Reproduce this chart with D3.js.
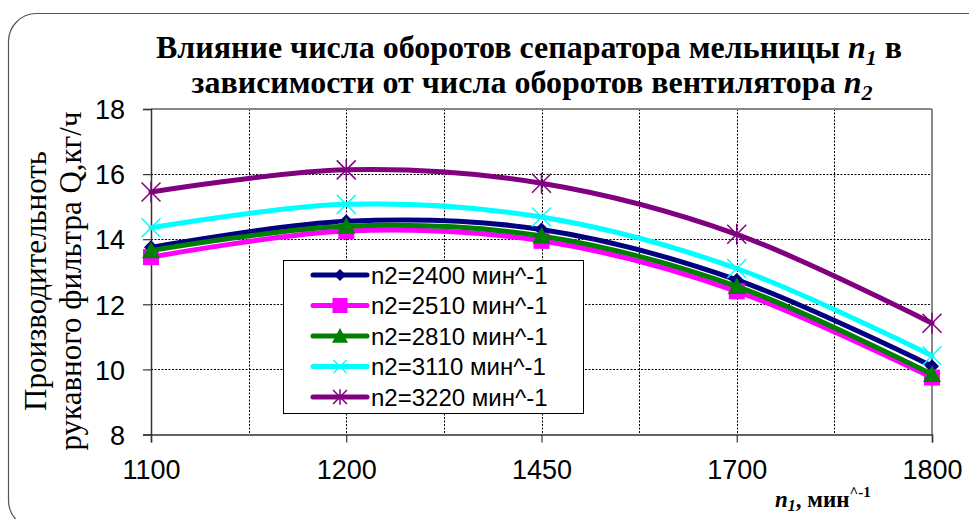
<!DOCTYPE html>
<html><head><meta charset="utf-8">
<script src="https://cdn.jsdelivr.net/npm/d3@7"></script>
<style>html,body{margin:0;padding:0;background:#fff;}svg{display:block;}</style>
</head><body>
<svg id="chart" width="969" height="519"></svg>
<script>
const categories = ['1100', '1200', '1450', '1700', '1800'];
const s2400 = [13.75, 14.55, 14.3, 12.75, 10.1];
const s2510 = [13.45, 14.25, 13.95, 12.4, 9.75];
const s2810 = [13.65, 14.4, 14.1, 12.55, 9.85];
const s3110 = [14.35, 15.07, 14.68, 13.1, 10.42];
const s3220 = [15.45, 16.13, 15.72, 14.15, 11.42];
const seriesNames = ['n2=2400 мин^-1', 'n2=2510 мин^-1', 'n2=2810 мин^-1', 'n2=3110 мин^-1', 'n2=3220 мин^-1'];
const yTicks = [8, 10, 12, 14, 16, 18];

const series = [
  {name: seriesNames[0], values: s2400, color: '#000080', marker: 'diamond'},
  {name: seriesNames[1], values: s2510, color: '#FF00FF', marker: 'square'},
  {name: seriesNames[2], values: s2810, color: '#008000', marker: 'triangle'},
  {name: seriesNames[3], values: s3110, color: '#00FFFF', marker: 'x'},
  {name: seriesNames[4], values: s3220, color: '#800080', marker: 'star'}
];

const svg = d3.select('#chart');
const SANS = '"Liberation Sans", Arial, sans-serif';
const SERIF = '"Liberation Serif", "Times New Roman", serif';

// outer rounded frame
svg.append('rect').attr('x', 8.5).attr('y', 13.5).attr('width', 990).attr('height', 515)
  .attr('rx', 28).attr('fill', '#fff').attr('stroke', '#555').attr('stroke-width', 1.2);

const plot = {left: 151, right: 932, top: 109, bottom: 434.5};
const x = d3.scalePoint().domain(categories).range([plot.left, plot.right]);
const y = d3.scaleLinear().domain([8, 18]).range([plot.bottom, plot.top]);
const step = x.step();

// gridlines horizontal
const g = svg.append('g');
g.selectAll('line.hg').data(yTicks.filter(t => t > 8 && t < 18)).join('line')
  .attr('x1', plot.left).attr('x2', plot.right)
  .attr('y1', d => Math.round(y(d)) + 0.5).attr('y2', d => Math.round(y(d)) + 0.5)
  .attr('stroke', '#000').attr('stroke-width', 1).attr('stroke-dasharray', '2,1.5');
// vertical gridlines at each half category
const halfSteps = d3.range(1, (categories.length - 1) * 2).map(i => plot.left + i * step / 2);
g.selectAll('line.vg').data(halfSteps).join('line')
  .attr('x1', d => Math.round(d) + 0.5).attr('x2', d => Math.round(d) + 0.5)
  .attr('y1', plot.top).attr('y2', plot.bottom)
  .attr('stroke', '#000').attr('stroke-width', 1).attr('stroke-dasharray', '2,1.5');
// top and right border (grey)
g.append('line').attr('x1', plot.left).attr('x2', plot.right).attr('y1', plot.top).attr('y2', plot.top)
  .attr('stroke', '#888').attr('stroke-width', 2);
g.append('line').attr('x1', plot.right).attr('x2', plot.right).attr('y1', plot.top).attr('y2', plot.bottom)
  .attr('stroke', '#888').attr('stroke-width', 2);

// axes
const yAxis = d3.axisLeft(y).tickValues(yTicks).tickSize(8).tickPadding(8);
const yG = svg.append('g').attr('transform', `translate(${plot.left},0)`).call(yAxis);
yG.select('.domain').attr('stroke', '#333').attr('stroke-width', 1.5);
yG.selectAll('.tick line').attr('stroke', '#333').attr('stroke-width', 1.2);
yG.selectAll('.tick text').style('font-family', SANS).style('font-size', '27px').attr('fill', '#000')
  .attr('dy', '0.36em').attr('x', -26);

const xAxis = d3.axisBottom(x).tickSize(8).tickPadding(14);
const xG = svg.append('g').attr('transform', `translate(0,${plot.bottom})`).call(xAxis);
xG.select('.domain').attr('stroke', '#333').attr('stroke-width', 1.5);
xG.selectAll('.tick line').attr('stroke', '#333').attr('stroke-width', 1.2);
xG.selectAll('.tick text').style('font-family', SANS).style('font-size', '27px').attr('fill', '#000')
  .attr('dy', null).attr('y', 44.5);

// markers
function drawMarker(sel, type, color, s) {
  const h = s / 2;
  if (type === 'diamond') {
    sel.append('path').attr('d', `M0,${-h}L${h},0L0,${h}L${-h},0Z`).attr('fill', color);
  } else if (type === 'square') {
    sel.append('rect').attr('x', -h).attr('y', -h).attr('width', s).attr('height', s).attr('fill', color);
  } else if (type === 'triangle') {
    sel.append('path').attr('d', `M0,${-h}L${h},${h * 0.85}L${-h},${h * 0.85}Z`).attr('fill', color);
  } else if (type === 'x') {
    sel.append('path').attr('d', `M${-h},${-h}L${h},${h}M${h},${-h}L${-h},${h}`)
      .attr('stroke', color).attr('stroke-width', 1.5).attr('fill', 'none');
  } else if (type === 'star') {
    sel.append('path').attr('d', `M${-h},${-h}L${h},${h}M${h},${-h}L${-h},${h}M0,${-h * 1.1}L0,${h * 1.1}`)
      .attr('stroke', color).attr('stroke-width', 1.5).attr('fill', 'none');
  }
}
const markerSize = {diamond: 14, square: 16, triangle: 18, x: 19, star: 19};

const line = d3.line().x((d, i) => x(categories[i])).y(d => y(d)).curve(d3.curveCardinal.tension(0));
series.forEach(s => {
  const sg = svg.append('g');
  sg.append('path').attr('d', line(s.values)).attr('fill', 'none').attr('stroke', s.color)
    .attr('stroke-width', 5).attr('stroke-linejoin', 'round').attr('stroke-linecap', 'round');
  s.values.forEach((v, i) => {
    const m = sg.append('g').attr('transform', `translate(${x(categories[i])},${y(v)})`);
    drawMarker(m, s.marker, s.color, markerSize[s.marker]);
  });
});

// legend
const leg = svg.append('g');
leg.append('rect').attr('x', 283.5).attr('y', 260.5).attr('width', 300).attr('height', 153)
  .attr('fill', '#fff').attr('stroke', '#000').attr('stroke-width', 1);
const legY = [275, 305.5, 336, 366.5, 397];
const legMarker = {diamond: 12, square: 15, triangle: 16, x: 13, star: 14};
series.forEach((s, i) => {
  const ly = legY[i];
  leg.append('line').attr('x1', 313).attr('x2', 367).attr('y1', ly).attr('y2', ly)
    .attr('stroke', s.color).attr('stroke-width', 5).attr('stroke-linecap', 'round');
  const m = leg.append('g').attr('transform', `translate(340,${ly})`);
  drawMarker(m, s.marker, s.color, legMarker[s.marker]);
  leg.append('text').attr('x', 371).attr('y', ly).attr('dy', '0.36em')
    .style('font-family', SANS).style('font-size', '24px').attr('fill', '#000').text(s.name);
});

// title
const title = svg.append('text').style('font-family', SERIF).attr('font-weight', 'bold')
  .style('font-size', '32px').attr('text-anchor', 'middle').attr('fill', '#000');
const t1 = title.append('tspan').attr('x', 529).attr('y', 58);
t1.append('tspan').text('Влияние числа оборотов сепаратора мельницы ');
t1.append('tspan').attr('font-style', 'italic').text('n');
t1.append('tspan').attr('font-style', 'italic').style('font-size', '22px').attr('dy', 7).text('1');
t1.append('tspan').attr('dy', -7).text(' в');
const title2 = svg.append('text').style('font-family', SERIF).attr('font-weight', 'bold')
  .style('font-size', '32px').attr('text-anchor', 'middle').attr('fill', '#000').attr('x', 532).attr('y', 93);
title2.append('tspan').text('зависимости от числа оборотов вентилятора ');
title2.append('tspan').attr('font-style', 'italic').text('n');
title2.append('tspan').attr('font-style', 'italic').style('font-size', '22px').attr('dy', 7).text('2');

// y axis title
const yt = svg.append('text').style('font-family', SERIF).style('font-size', '31px')
  .attr('text-anchor', 'middle').attr('fill', '#000')
  .attr('transform', 'translate(0,281) rotate(-90)');
yt.append('tspan').attr('x', 0).attr('y', 46).text('Производительноть');
yt.append('tspan').attr('x', 0).attr('y', 81).text('рукавного фильтра Q,кг/ч');

// x axis title
const xt = svg.append('text').style('font-family', SERIF).attr('font-weight', 'bold')
  .style('font-size', '23px').attr('fill', '#000').attr('x', 775).attr('y', 507);
xt.append('tspan').attr('font-style', 'italic').text('n');
xt.append('tspan').attr('font-style', 'italic').style('font-size', '16px').attr('dy', 4).text('1');
xt.append('tspan').attr('dy', -4).text(', мин');
xt.append('tspan').style('font-size', '15px').attr('dy', -10).text('^-1');
</script>
</body></html>
